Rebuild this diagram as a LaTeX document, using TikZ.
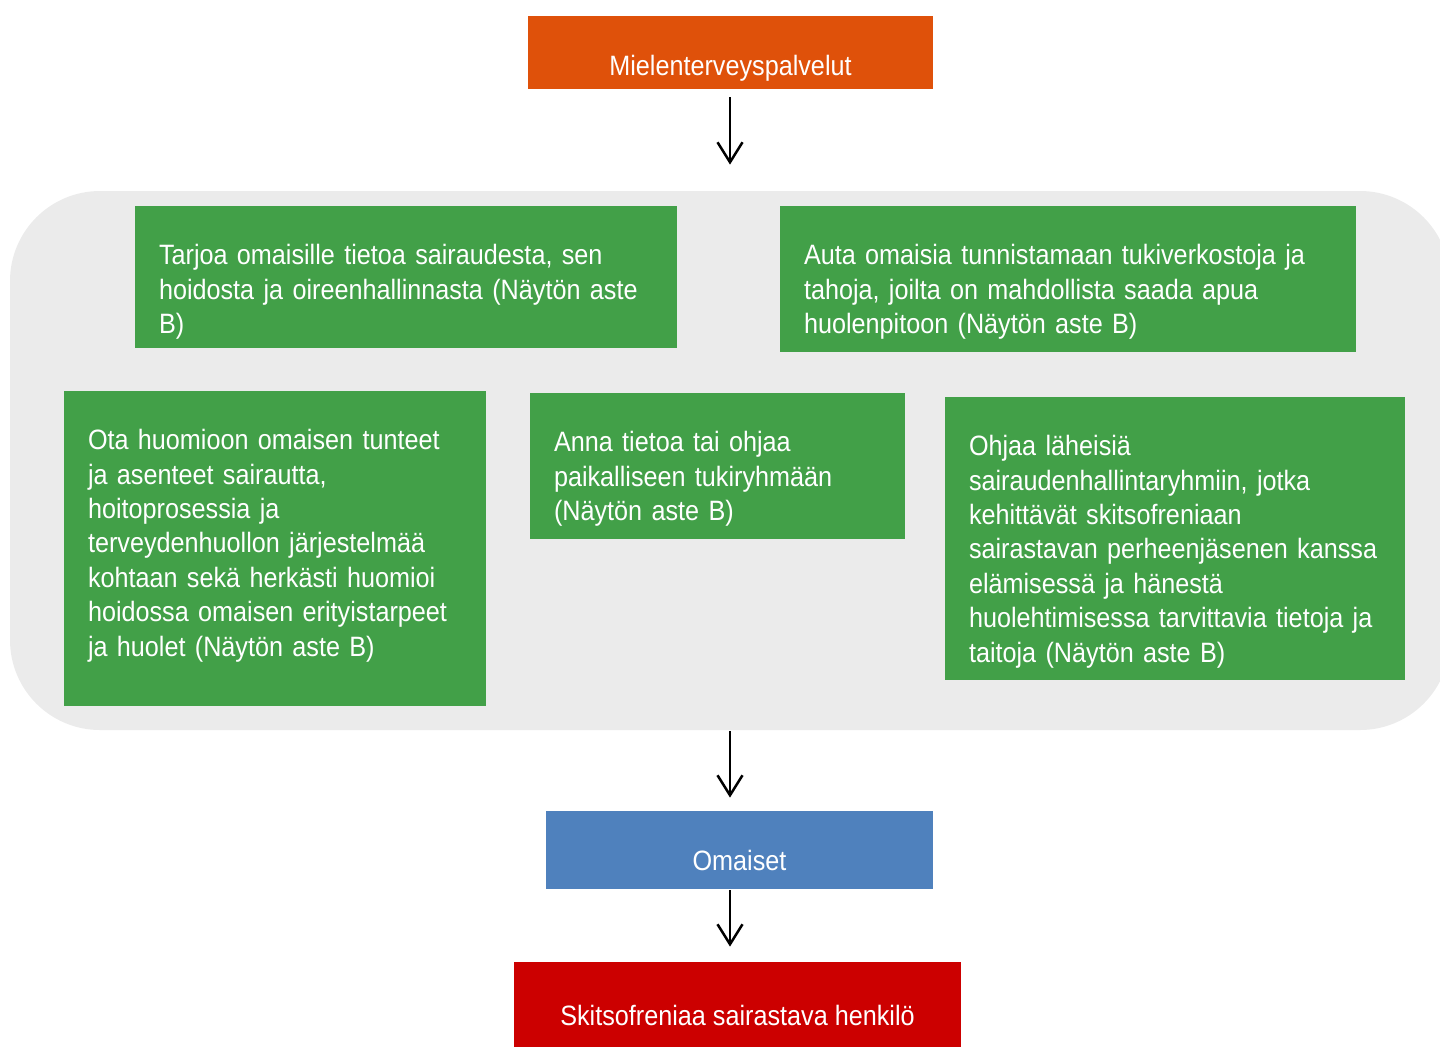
\documentclass[tikz,border=0pt]{standalone}
\usepackage{fontspec}
\setmainfont[FakeStretch=0.9]{Liberation Sans}
\usepackage{tikz}
\usetikzlibrary{arrows.meta, positioning}

\definecolor{orangebox}{HTML}{DF510A}
\definecolor{greenbox}{HTML}{42A048}
\definecolor{bluebox}{HTML}{4F81BD}
\definecolor{redbox}{HTML}{CC0000}
\definecolor{panelgray}{HTML}{EBEBEB}

\tikzset{
  titlebox/.style={rectangle, text=white, font=\fontsize{14}{17.2}\selectfont,
    text height=29.5pt, inner sep=0pt},
  advice/.style={rectangle, fill=greenbox, text=white, align=left,
    font=\fontsize{14}{17.2}\selectfont, text height=29.3pt,
    inner xsep=12pt, inner ysep=0pt},
  flow/.style={line width=1.25pt, -{Straight Barb[length=10pt, width=12.5pt]}}
}

\begin{document}
\begin{tikzpicture}[x=0.5pt, y=-0.5pt]
\useasboundingbox (0,0) rectangle (1440,1046);
\clip (0,0) rectangle (1440,1046);

% grey panel behind the advice boxes
\node[fill=panelgray, rounded corners=45pt, minimum width=720pt, minimum height=269.5pt, inner sep=0pt]
  (panel) at (730,460.5) {};

\node[titlebox, fill=orangebox, minimum width=202.5pt, text depth=7pt]
  (services) at (730.5,52.5) {Mielenterveyspalvelut};

% advice boxes
\node[advice, text width=247pt, text depth=41.7pt] (info) at (406,277)
  {Tarjoa omaisille tietoa sairaudesta, sen\\ hoidosta ja oireenhallinnasta (Näytön aste\\ B)};
\node[advice, text width=264pt, text depth=43.7pt] (network) at (1068,279)
  {Auta omaisia tunnistamaan tukiverkostoja ja\\ tahoja, joilta on mahdollista saada apua\\ huolenpitoon (Näytön aste B)};
\node[advice, text width=187pt, text depth=128.2pt] (feelings) at (275,548.5)
  {Ota huomioon omaisen tunteet\\ ja asenteet sairautta,\\ hoitoprosessia ja\\ terveydenhuollon järjestelmää\\ kohtaan sekä herkästi huomioi\\ hoidossa omaisen erityistarpeet\\ ja huolet (Näytön aste B)};
\node[advice, text width=163.5pt, text depth=43.7pt] (support) at (717.5,466)
  {Anna tietoa tai ohjaa\\ paikalliseen tukiryhmään\\ (Näytön aste B)};
\node[advice, text width=206pt, text depth=112.2pt] (groups) at (1175,538.5)
  {Ohjaa läheisiä\\ sairaudenhallintaryhmiin, jotka\\ kehittävät skitsofreniaan\\ sairastavan perheenjäsenen kanssa\\ elämisessä ja hänestä\\ huolehtimisessa tarvittavia tietoja ja\\ taitoja (Näytön aste B)};

\node[titlebox, fill=bluebox, minimum width=193.5pt, text depth=9.5pt]
  (relatives) at (739.5,850) {Omaiset};
\node[titlebox, fill=redbox, minimum width=223.5pt, text height=31.5pt, text depth=13.5pt]
  (patient) at (737.5,1007) {Skitsofreniaa sairastava henkilö};

% arrows
\draw[flow, shorten <=4pt, shorten >=13pt] (services.south -| panel.north) -- (panel.north);
\draw[flow, shorten <=0.5pt, shorten >=6.5pt] (panel.south) -- (panel.south |- relatives.north);
\draw[flow, shorten <=0.5pt, shorten >=7.5pt] (panel.south |- relatives.south) -- (panel.south |- patient.north);
\end{tikzpicture}
\end{document}
